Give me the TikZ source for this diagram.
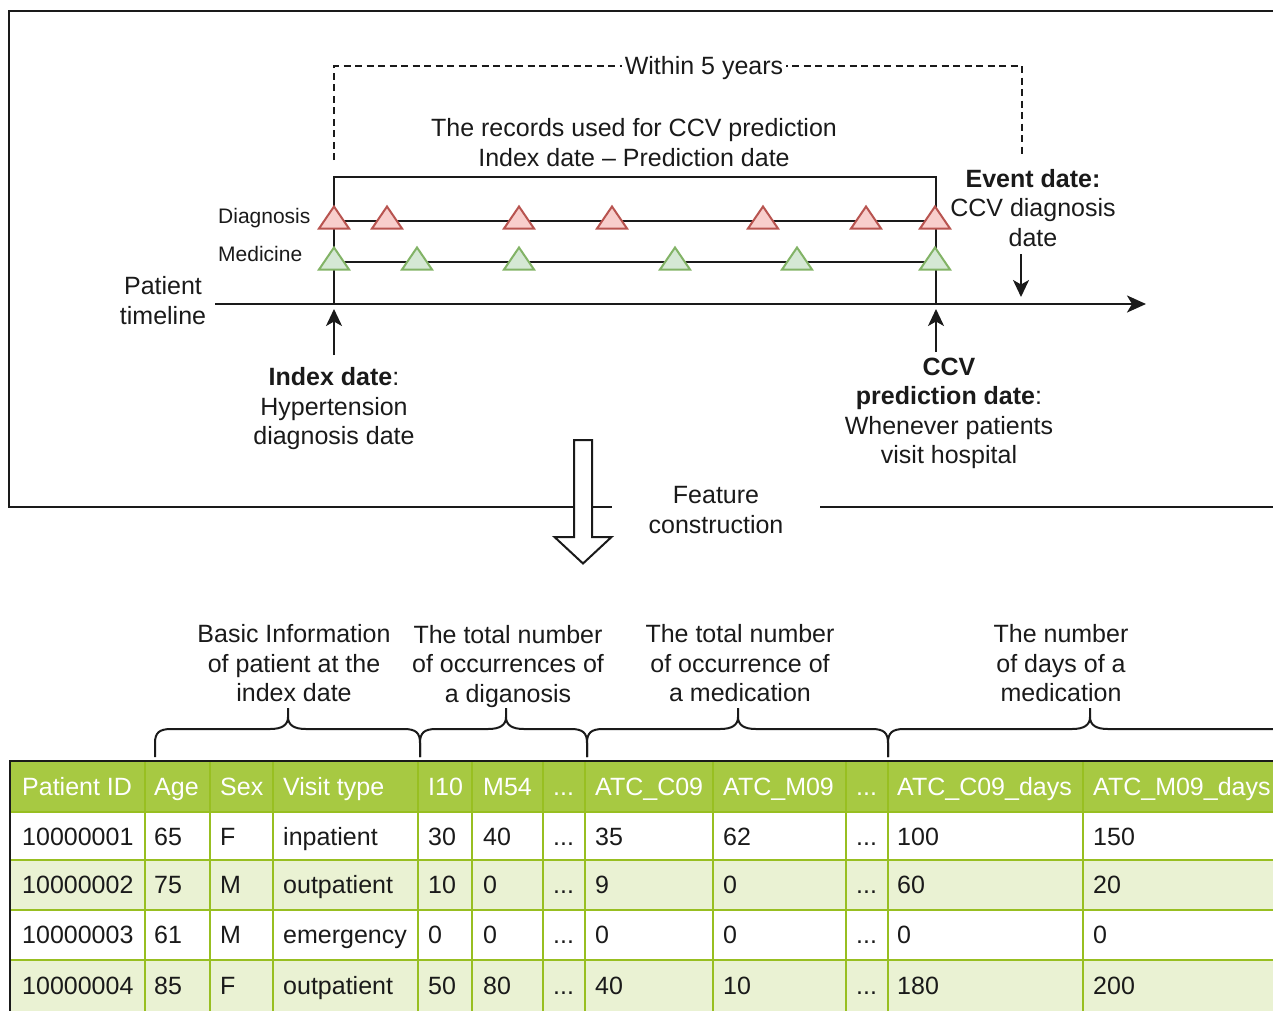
\documentclass[tikz,border=0pt]{standalone}
\usepackage{fontspec}
\setmainfont{Liberation Sans}
\usetikzlibrary{arrows.meta}

\definecolor{diagfill}{HTML}{F8CECC}
\definecolor{diagline}{HTML}{B85450}
\definecolor{medfill}{HTML}{D5E8D4}
\definecolor{medline}{HTML}{82B366}
\definecolor{headfill}{HTML}{A7C942}
\definecolor{altfill}{HTML}{EAF2D3}
\definecolor{gridgreen}{HTML}{98BF21}
\definecolor{ink}{HTML}{1A1A1A}

% three dots used in the elided table columns
\newcommand\tdots{...}

% horizontal curly brace: left end, tip, right end (ends point down)
\newcommand\curlybrace[3]{%
  \draw[bracket] (#1,757) -- (#1,743) .. controls (#1,733) and (#1+4,729) .. (#1+16,729)
    -- (#2-18,729) .. controls (#2-6,729) and (#2,725) .. (#2,717) -- (#2,708);
  \draw[bracket] (#2,717) .. controls (#2,725) and (#2+6,729) .. (#2+18,729)
    -- (#3-16,729) .. controls (#3-4,729) and (#3,733) .. (#3,743) -- (#3,757);
}

\tikzset{
  lbl/.style={font=\fontsize{25}{29.5}\selectfont, inner sep=0pt, align=center, text=ink},
  evlabel/.style={font=\fontsize{21}{25}\selectfont, inner sep=0pt, text=ink, anchor=west},
  tcell/.style={font=\fontsize{25}{30}\selectfont, inner sep=0pt, anchor=base west, text=ink},
  hcell/.style={tcell, text=white},
  outerframe/.style={draw=ink, line width=2.5pt},
  boxline/.style={draw=ink, line width=2pt},
  axisline/.style={draw=ink, line width=2.5pt, -{Stealth[length=19pt,width=17pt,inset=5pt]}},
  arr/.style={draw=ink, line width=2pt, -{Stealth[length=17pt,width=16pt,inset=4.5pt]}},
  dashline/.style={draw=ink, line width=2pt, dash pattern=on 7pt off 4.5pt},
  diagtri/.style={draw=diagline, fill=diagfill, line width=2pt},
  medtri/.style={draw=medline, fill=medfill, line width=2pt},
  bracket/.style={draw=ink, line width=2pt},
  gridrule/.style={draw=gridgreen, line width=2pt},
  tableborder/.style={draw=ink, line width=2.5pt},
}

\begin{document}
\begin{tikzpicture}[x=1pt, y=-1pt]
\useasboundingbox (0,0) rectangle (1273,1010);
\clip (0,0) rectangle (1273,1010);

% ---------- upper panel ----------
\draw[outerframe] (1290,11) -- (9,11) -- (9,507) -- (1290,507);

% five-year window
\draw[dashline] (334,160) -- (334,66) -- (1022,66) -- (1022,158);
\node[lbl, fill=white, inner xsep=3pt] (within) at (704,68) {Within 5 years};

\node[lbl] (records) at (634,142.5) {The records used for CCV prediction\\Index date – Prediction date};

% observation window and record lines
\draw[boxline] (334,304) -- (334,177) -- (936,177) -- (936,304);
\draw[boxline] (334,221) -- (936,221);
\draw[boxline] (334,262) -- (936,262);

% patient timeline
\coordinate (ax0) at (215,304);
\coordinate (ax1) at (1146,304);
\draw[axisline] (ax0) -- (ax1);
\draw[boxline] (334,304) -- (936,304);

% diagnosis and medicine records
\foreach \x in {334,387,519,612,763,866,935}
  \draw[diagtri] (\x-15,228.5) -- (\x,206.5) -- (\x+15,228.5) -- cycle;
\foreach \x in {334,417,519,675,797,935}
  \draw[medtri] (\x-15,269.5) -- (\x,247.5) -- (\x+15,269.5) -- cycle;

\node[evlabel] (diaglbl) at (218,218) {Diagnosis};
\node[evlabel] (medlbl) at (218,254) {Medicine};
\node[lbl] (timeline) at (163,300.5) {Patient\\timeline};

\node[lbl] (event) at (1033,208) {\textbf{Event date:}\\CCV diagnosis\\date};
\node[lbl] (index) at (334,409) {\textbf{Index date}:\\Hypertension\\diagnosis date};
\node[lbl] (ccv) at (949,413.5) {\textbf{CCV}\\\textbf{prediction date}:\\Whenever patients\\visit hospital};

\coordinate (idxfoot) at (334,355);
\coordinate (idxtip) at (334,309);
\coordinate (ccvfoot) at (936,352);
\coordinate (ccvtip) at (936,309);
\coordinate (evtop) at (1021,254);
\coordinate (evtip) at (1021,297);
\draw[arr] (idxfoot) -- (idxtip);
\draw[arr] (ccvfoot) -- (ccvtip);
\draw[arr] (evtop) -- (evtip);

% feature construction step
\node[lbl, fill=white, minimum width=208pt, minimum height=62pt] (feat) at (716,510) {Feature\\construction};
\draw[boxline, fill=white, line join=miter]
  (574,440) -- (592,440) -- (592,537) -- (611.5,537) -- (583,563.5) -- (554.5,537) -- (574,537) -- cycle;

% ---------- feature groups ----------
\node[lbl] (grpbasic) at (294,663.5) {Basic Information\\of patient at the\\index date};
\node[lbl] (grpdiag) at (508,666.5) {The total number\\of occurrences of\\a diganosis};
\node[lbl] (grpmed) at (740,663.5) {The total number\\of occurrence of\\a medication};
\node[lbl] (grpdays) at (1061,663.5) {The number\\of days of a\\medication};

\curlybrace{155}{288}{420}
\curlybrace{420}{506}{587}
\curlybrace{587}{738}{888}
\curlybrace{888}{1090}{1292}

% ---------- feature table ----------
\fill[headfill] (10,762) rectangle (1290,812);
\fill[white] (10,812) rectangle (1290,860);
\fill[altfill] (10,860) rectangle (1290,910);
\fill[white] (10,910) rectangle (1290,960);
\fill[altfill] (10,960) rectangle (1290,1015);
\foreach \y in {812,860,910,960} \draw[gridrule] (10,\y) -- (1290,\y);
\foreach \x in {145,210,273,418,472,543,585,713,846,888,1083} \draw[gridrule] (\x,762) -- (\x,1015);
\draw[tableborder] (10,1015) -- (10,761) -- (1290,761);

\foreach \x/\t [count=\i] in {22/Patient ID, 154/Age, 220/Sex, 283/Visit type, 428/I10, 483/M54, 553/\tdots, 595/ATC\_C09, 723/ATC\_M09, 856/\tdots, 897/ATC\_C09\_days, 1093/ATC\_M09\_days}
  \node[hcell] (h\i) at (\x,795) {\t};

\foreach \x/\t [count=\i] in {22/10000001, 154/65, 220/F, 283/inpatient, 428/30, 483/40, 553/\tdots, 595/35, 723/62, 856/\tdots, 897/100, 1093/150}
  \node[tcell] (ra\i) at (\x,845) {\t};
\foreach \x/\t [count=\i] in {22/10000002, 154/75, 220/M, 283/outpatient, 428/10, 483/0, 553/\tdots, 595/9, 723/0, 856/\tdots, 897/60, 1093/20}
  \node[tcell] (rb\i) at (\x,893.5) {\t};
\foreach \x/\t [count=\i] in {22/10000003, 154/61, 220/M, 283/emergency, 428/0, 483/0, 553/\tdots, 595/0, 723/0, 856/\tdots, 897/0, 1093/0}
  \node[tcell] (rc\i) at (\x,943.5) {\t};
\foreach \x/\t [count=\i] in {22/10000004, 154/85, 220/F, 283/outpatient, 428/50, 483/80, 553/\tdots, 595/40, 723/10, 856/\tdots, 897/180, 1093/200}
  \node[tcell] (rd\i) at (\x,994) {\t};
\end{tikzpicture}
\end{document}
